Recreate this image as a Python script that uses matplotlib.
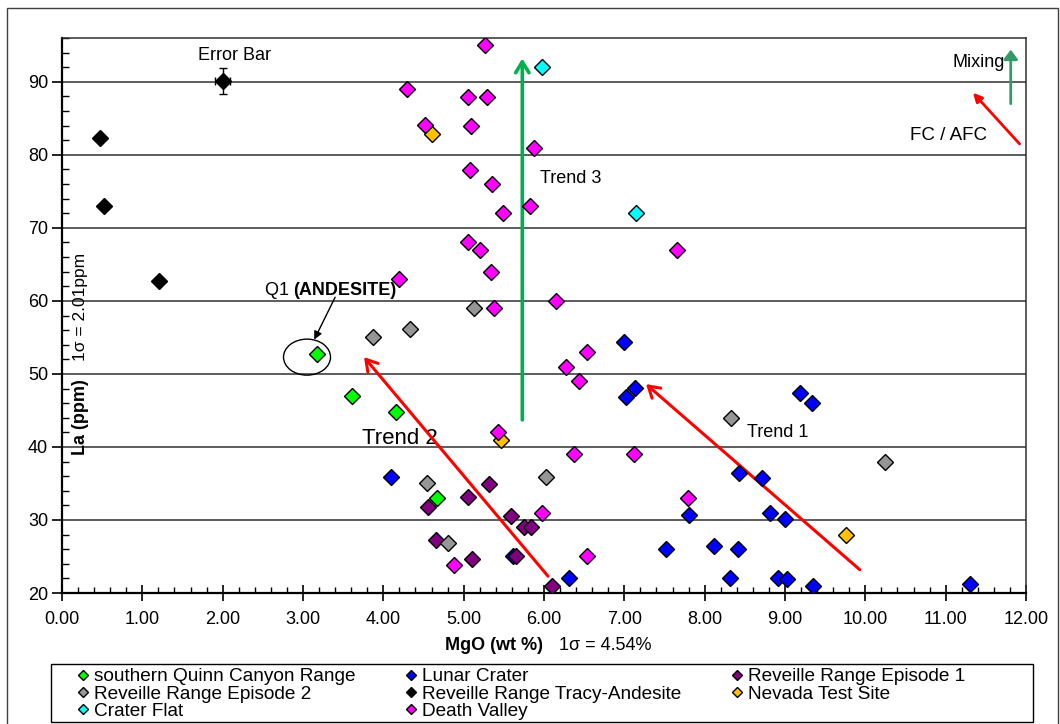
import matplotlib
matplotlib.use("Agg")
import matplotlib.pyplot as plt
from matplotlib.patches import Ellipse, Rectangle
from matplotlib.ticker import MultipleLocator, FormatStrFormatter

plt.rcParams["font.family"] = ["Liberation Sans", "DejaVu Sans"]

# ---- data (MgO wt %, La ppm) ----
sqcr_mgo = [3.17, 3.61, 4.16, 4.67]
sqcr_la  = [52.7, 47.0, 44.8, 33.0]

lunar_mgo = [4.10, 5.61, 6.31, 6.99, 7.02, 7.13, 7.52, 7.81, 8.11, 8.31, 8.41,
             8.43, 8.71, 8.81, 8.91, 9.00, 9.03, 9.19, 9.33, 9.35, 11.30]
lunar_la  = [35.9, 25.0, 22.0, 54.4, 46.9, 48.1, 26.0, 30.7, 26.5, 22.0, 26.0,
             36.4, 35.7, 31.0, 22.0, 30.2, 21.9, 47.4, 46.0, 21.0, 21.2]

rre1_mgo = [4.55, 4.66, 5.06, 5.10, 5.32, 5.59, 5.65, 5.75, 5.84, 6.10]
rre1_la  = [31.8, 27.2, 33.2, 24.7, 34.9, 30.5, 25.0, 29.1, 29.1, 21.0]

rre2_mgo = [3.87, 4.33, 5.13, 4.54, 4.81, 6.02, 8.33, 10.25]
rre2_la  = [55.0, 56.2, 59.0, 35.0, 26.9, 35.9, 43.9, 37.9]

tracy_mgo = [0.47, 0.52, 1.21]
tracy_la  = [82.3, 73.0, 62.7]

nts_mgo = [4.61, 5.46, 9.76]
nts_la  = [82.9, 40.9, 27.9]

cf_mgo = [5.97, 7.14]
cf_la  = [92.0, 72.0]

dv_mgo = [5.27, 4.30, 5.05, 5.29, 4.52, 5.09, 5.87, 5.08, 5.35, 5.82, 5.49,
          5.06, 5.20, 7.65, 5.34, 4.19, 6.15, 5.38, 6.54, 6.28, 6.43, 5.43,
          6.37, 7.12, 7.79, 5.97, 4.88, 6.54]
dv_la  = [95.0, 89.0, 87.9, 87.9, 84.1, 84.0, 81.0, 77.9, 76.0, 73.0, 72.0,
          68.0, 67.0, 67.0, 64.0, 63.0, 60.0, 59.0, 53.0, 51.0, 49.0, 42.1,
          39.0, 39.0, 33.0, 31.0, 23.9, 25.1]

errbar_mgo = [2.0]
errbar_la  = [90.1]
errbar_xerr = [0.09]
errbar_yerr = [1.8]

series = [
    ("southern Quinn Canyon Range",    sqcr_mgo,  sqcr_la,  "#00ff00"),
    ("Lunar Crater",                   lunar_mgo, lunar_la, "#0000ff"),
    ("Reveille Range Episode 1",       rre1_mgo,  rre1_la,  "#800080"),
    ("Reveille Range Episode 2",       rre2_mgo,  rre2_la,  "#969696"),
    ("Reveille Range Tracy-Andesite",  tracy_mgo, tracy_la, "#000000"),
    ("Nevada Test Site",               nts_mgo,   nts_la,   "#ffc000"),
    ("Crater Flat",                    cf_mgo,    cf_la,    "#00ffff"),
    ("Death Valley",                   dv_mgo,    dv_la,    "#ff00ff"),
]

W, H = 1060, 724
MS = 8.6
fig = plt.figure(figsize=(W / 100, H / 100), dpi=100)
ax = fig.add_axes([62 / W, 1 - 593 / H, (1026 - 62) / W, (593 - 38) / H])

# outer chart frame
fig.patches.append(Rectangle((7 / W, -0.05), (1058 - 7) / W, 1.05 - 8 / H,
                             transform=fig.transFigure, fill=False,
                             edgecolor="#404040", linewidth=1.0))

handles = {}
for name, xs, ys, col in series:
    h, = ax.plot(xs, ys, linestyle="none", marker="D", markersize=MS,
                 markerfacecolor=col, markeredgecolor="black",
                 markeredgewidth=1.0, zorder=4, label=name)
    handles[name] = h

ax.errorbar(errbar_mgo, errbar_la, xerr=errbar_xerr, yerr=errbar_yerr,
            fmt="D", color="black", markersize=MS, ecolor="black",
            elinewidth=1.0, capsize=3, zorder=4)

ax.set_xlim(0, 12)
ax.set_ylim(20, 96)
ax.xaxis.set_major_locator(MultipleLocator(1))
ax.xaxis.set_minor_locator(MultipleLocator(0.2))
ax.xaxis.set_major_formatter(FormatStrFormatter("%.2f"))
ax.yaxis.set_major_locator(MultipleLocator(10))
ax.yaxis.set_minor_locator(MultipleLocator(2))
ax.set_yticks(range(20, 91, 10))
ax.tick_params(axis="x", which="major", direction="inout", length=12, width=1.2,
               labelsize=13, pad=7)
ax.tick_params(axis="x", which="minor", direction="in", length=4, width=1)
ax.tick_params(axis="y", which="major", direction="out", length=7, width=1.2,
               labelsize=13, pad=3)
ax.tick_params(axis="y", which="minor", direction="in", length=5, width=1)
ax.grid(axis="y", which="major", color="#303030", linewidth=1.1, zorder=1)
ax.set_axisbelow(True)
for side in ("left", "bottom"):
    ax.spines[side].set_linewidth(1.6)
for side in ("top", "right"):
    ax.spines[side].set_linewidth(1.1)
    ax.spines[side].set_color("#303030")

# axis labels (the y label sits inside the plot box in the reference)
ax.text(0.0197, 0.317, "La (ppm)", transform=ax.transAxes, rotation=90,
        ha="center", va="center", fontsize=13, fontweight="bold")
ax.text(0.0197, 0.515, "1σ = 2.01ppm", transform=ax.transAxes, rotation=90,
        ha="center", va="center", fontsize=12.5)
fig.text(543 / W, 1 - 646 / H, "MgO (wt %)", ha="right", va="center",
         fontsize=13, fontweight="bold")
fig.text(559 / W, 1 - 646 / H, "1σ = 4.54%", ha="left", va="center",
         fontsize=13)

# annotations
ax.text(2.15, 93.6, "Error Bar", ha="center", va="center", fontsize=13)
ax.text(2.53, 61.4, "Q1 ", ha="left", va="center", fontsize=13)
ax.text(2.88, 61.4, "(ANDESITE)", ha="left", va="center", fontsize=13,
        fontweight="bold")
ax.add_patch(Ellipse((3.05, 52.3), 0.585, 4.93, fill=False,
                     edgecolor="black", linewidth=1.0, zorder=3))
ax.annotate("", xy=(3.14, 54.7), xytext=(3.40, 60.5),
            arrowprops=dict(arrowstyle="-|>", color="black", lw=1.0,
                            mutation_scale=12, shrinkA=0, shrinkB=0))

ax.text(5.95, 76.7, "Trend 3", ha="left", va="center", fontsize=13)
ax.text(3.73, 41.2, "Trend 2", ha="left", va="center", fontsize=16)
ax.text(8.53, 42.0, "Trend 1", ha="left", va="center", fontsize=13)
ax.text(11.74, 92.6, "Mixing", ha="right", va="center", fontsize=13)
ax.text(11.51, 82.6, "FC / AFC", ha="right", va="center", fontsize=13.5)

open_head = "->,head_length=0.65,head_width=0.4"
open_red = dict(arrowstyle=open_head, color="#ff0000", lw=2.2,
                mutation_scale=12, shrinkA=0, shrinkB=0)
ax.annotate("", xy=(3.76, 52.3), xytext=(6.05, 22.3), arrowprops=open_red,
            zorder=3)
ax.annotate("", xy=(7.27, 48.6), xytext=(9.93, 23.2), arrowprops=open_red,
            zorder=3)
ax.annotate("", xy=(5.73, 93.2), xytext=(5.73, 43.7),
            arrowprops=dict(arrowstyle=open_head, color="#00b050", lw=2.6,
                            mutation_scale=12, shrinkA=0, shrinkB=0), zorder=3)
ax.annotate("", xy=(11.34, 88.5), xytext=(11.92, 81.5),
            arrowprops=dict(arrowstyle="-|>", color="#ff0000", lw=2.0,
                            mutation_scale=13, shrinkA=0, shrinkB=0), zorder=3)
ax.annotate("", xy=(11.81, 94.4), xytext=(11.81, 87.0),
            arrowprops=dict(arrowstyle="-|>,head_width=0.3", color="#339966",
                            lw=2.0, mutation_scale=14, shrinkA=0, shrinkB=0),
            zorder=3)

# legend: column-major order so rows read like the reference
order = ["southern Quinn Canyon Range", "Reveille Range Episode 2", "Crater Flat",
         "Lunar Crater", "Reveille Range Tracy-Andesite", "Death Valley",
         "Reveille Range Episode 1", "Nevada Test Site"]
leg = fig.legend([handles[n] for n in order], order, ncol=3,
                 loc="upper left", bbox_to_anchor=(76 / W, 1 - 666 / H),
                 frameon=False, fontsize=13.7, markerscale=0.6,
                 handlelength=0.5, handletextpad=0.35, labelspacing=0.0,
                 columnspacing=2.65, borderpad=0.1, borderaxespad=0)
fig.patches.append(Rectangle((51 / W, 1 - 722 / H), (1033 - 51) / W, 58 / H,
                             transform=fig.transFigure, fill=False,
                             edgecolor="black", linewidth=1.0))

fig.savefig("out.png", dpi=100)
